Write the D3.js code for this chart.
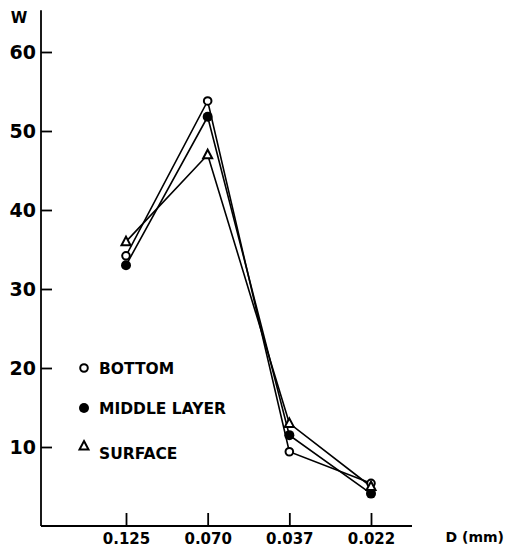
<!DOCTYPE html>
<html><head><meta charset="utf-8">
<script src="https://cdn.jsdelivr.net/npm/d3@7"></script>
<style>body{margin:0;background:#fff}</style>
</head><body>
<svg id="c" width="507" height="559"></svg>
<script>
const categories = ["0.125", "0.070", "0.037", "0.022"];
const bottom = [34.2, 53.8, 9.4, 5.4];
const middle = [33.0, 51.8, 11.5, 4.1];
const surface = [36.0, 47.0, 13.0, 5.0];
const yTicks = [10, 20, 30, 40, 50, 60];
const seriesNames = ["BOTTOM", "MIDDLE LAYER", "SURFACE"];

const series = [
  {name: seriesNames[0], values: bottom, mark: "open"},
  {name: seriesNames[1], values: middle, mark: "filled"},
  {name: seriesNames[2], values: surface, mark: "tri"}
];

const svg = d3.select("#c");
const font = "'DejaVu Sans', sans-serif";
const y = d3.scaleLinear().domain([0, 60]).range([526, 52]);
const x = d3.scalePoint().domain(categories).range([126, 371]);
const axisX = 41;

// y axis
const gy = svg.append("g").attr("transform", `translate(${axisX},0)`)
  .call(d3.axisLeft(y).tickValues(yTicks).tickSize(-11).tickPadding(5).tickFormat(d3.format("d")));
gy.select(".domain").remove();
gy.selectAll(".tick line").attr("stroke", "#000").attr("stroke-width", 1.8);
gy.selectAll(".tick text").attr("font-family", font).attr("font-weight", "bold")
  .attr("font-size", 19).attr("fill", "#000");
svg.append("line").attr("x1", axisX).attr("x2", axisX)
  .attr("y1", y(65.3)).attr("y2", y(0)).attr("stroke", "#000").attr("stroke-width", 1.8);
svg.append("text").attr("x", 19).attr("y", 23).attr("text-anchor", "middle")
  .attr("font-family", font).attr("font-weight", "bold").attr("font-size", 15).text("W");

// x axis
const gx = svg.append("g").attr("transform", `translate(0,${y(0)})`)
  .call(d3.axisBottom(x).tickSize(-13).tickPadding(4));
gx.select(".domain").remove();
gx.selectAll(".tick line").attr("stroke", "#000").attr("stroke-width", 1.8);
gx.selectAll(".tick text").attr("font-family", font).attr("font-weight", "bold")
  .attr("font-size", 15).attr("fill", "#000").attr("dy", "0.9em");
svg.append("line").attr("x1", axisX).attr("x2", 412)
  .attr("y1", y(0)).attr("y2", y(0)).attr("stroke", "#000").attr("stroke-width", 1.8);
svg.append("text").attr("x", 504).attr("y", 542).attr("text-anchor", "end")
  .attr("font-family", font).attr("font-weight", "bold").attr("font-size", 14).text("D (mm)");

// lines
const line = d3.line().x((d, i) => x(categories[i])).y(d => y(d));
series.forEach(s => {
  svg.append("path").attr("d", line(s.values)).attr("fill", "none")
    .attr("stroke", "#000").attr("stroke-width", 1.6);
});

function drawMark(g, type, cx, cy) {
  if (type === "open") {
    g.append("circle").attr("cx", cx).attr("cy", cy).attr("r", 3.8)
      .attr("fill", "#fff").attr("stroke", "#000").attr("stroke-width", 2);
  } else if (type === "filled") {
    g.append("circle").attr("cx", cx).attr("cy", cy).attr("r", 5).attr("fill", "#000");
  } else {
    const s = 9;
    g.append("path")
      .attr("d", `M${cx},${cy - s * 0.55}L${cx + s / 2},${cy + s * 0.4}L${cx - s / 2},${cy + s * 0.4}Z`)
      .attr("fill", "#fff").attr("stroke", "#000").attr("stroke-width", 2);
  }
}

series.forEach(s => {
  const g = svg.append("g");
  s.values.forEach((v, i) => drawMark(g, s.mark, x(categories[i]), y(v)));
});

// legend
const legY = [368, 408, 447];
series.forEach((s, i) => {
  const g = svg.append("g");
  drawMark(g, s.mark, 84, legY[i] - (s.mark === "tri" ? 1 : 0));
  g.append("text").attr("x", 99).attr("y", legY[i] + (s.mark === "tri" ? 12 : 6))
    .attr("font-family", font).attr("font-weight", "bold").attr("font-size", 15.5).text(s.name);
});
</script>
</body></html>
